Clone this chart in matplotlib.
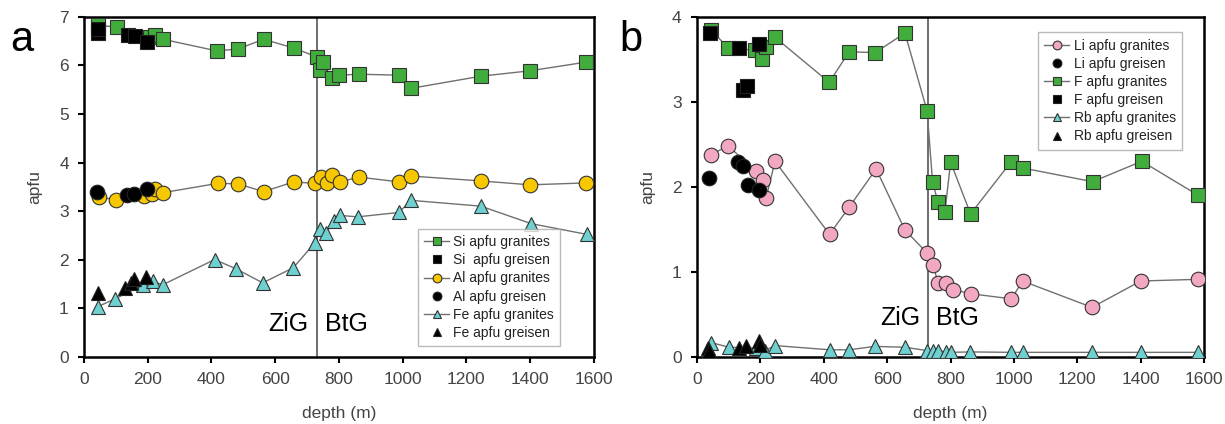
import numpy as np
import matplotlib
matplotlib.use("Agg")
import matplotlib.pyplot as plt

plt.rcParams['font.family'] = ['Liberation Sans', 'DejaVu Sans']

# panel a: Si, Al, Fe apfu
si_gr_d = [44, 103, 207, 222, 248, 417, 483, 564, 658, 730, 740, 750, 777, 802, 862, 990, 1028, 1247, 1400, 1577]
si_gr = [6.83, 6.79, 6.59, 6.62, 6.54, 6.30, 6.34, 6.54, 6.36, 6.18, 5.90, 6.07, 5.74, 5.80, 5.82, 5.80, 5.53, 5.78, 5.89, 6.07]
si_gs_d = [44, 44, 138, 160, 197]
si_gs = [6.67, 6.75, 6.63, 6.60, 6.48]

al_gr_d = [47, 101, 188, 214, 222, 249, 420, 483, 564, 658, 725, 745, 762, 780, 805, 862, 990, 1028, 1247, 1400, 1577]
al_gr = [3.29, 3.23, 3.30, 3.36, 3.45, 3.38, 3.57, 3.56, 3.40, 3.60, 3.57, 3.70, 3.58, 3.74, 3.60, 3.70, 3.60, 3.72, 3.62, 3.54, 3.58]
al_gs_d = [42, 136, 157, 198]
al_gs = [3.40, 3.34, 3.36, 3.45]

fe_gr_d = [43, 98, 185, 216, 247, 410, 477, 561, 657, 724, 741, 761, 784, 803, 859, 988, 1027, 1246, 1404, 1578]
fe_gr = [1.03, 1.19, 1.48, 1.55, 1.48, 2.00, 1.81, 1.52, 1.83, 2.34, 2.63, 2.55, 2.79, 2.91, 2.88, 2.97, 3.22, 3.10, 2.74, 2.52]
fe_gs_d = [43, 129, 146, 157, 196]
fe_gs = [1.31, 1.41, 1.52, 1.59, 1.64]

# panel b: Li, F, Rb apfu
li_gr_d = [43, 99, 186, 207, 218, 246, 418, 480, 565, 656, 726, 746, 759, 784, 806, 864, 992, 1027, 1246, 1400, 1581]
li_gr = [2.38, 2.48, 2.18, 2.08, 1.87, 2.30, 1.44, 1.76, 2.21, 1.49, 1.22, 1.08, 0.87, 0.87, 0.79, 0.74, 0.68, 0.89, 0.58, 0.89, 0.91]
li_gs_d = [38, 129, 145, 160, 195]
li_gs = [2.10, 2.29, 2.25, 2.02, 1.96]

f_gr_d = [44, 99, 183, 204, 218, 246, 417, 480, 562, 656, 726, 743, 760, 782, 800, 863, 990, 1029, 1248, 1403, 1581]
f_gr = [3.85, 3.63, 3.61, 3.50, 3.65, 3.76, 3.23, 3.59, 3.58, 3.81, 2.89, 2.06, 1.82, 1.70, 2.29, 1.68, 2.29, 2.22, 2.06, 2.30, 1.90]
f_gs_d = [41, 132, 146, 157, 196]
f_gs = [3.81, 3.64, 3.14, 3.19, 3.68]

rb_gr_d = [44, 101, 186, 215, 245, 418, 480, 560, 656, 726, 744, 759, 784, 800, 861, 992, 1027, 1246, 1400, 1581]
rb_gr = [0.165, 0.11, 0.10, 0.07, 0.13, 0.08, 0.08, 0.12, 0.11, 0.07, 0.07, 0.07, 0.055, 0.05, 0.055, 0.05, 0.05, 0.05, 0.05, 0.05]
rb_gs_d = [35, 38, 133, 155, 197, 200]
rb_gs = [0.10, 0.06, 0.10, 0.12, 0.18, 0.14]

boundary = 730

green = '#41ad3c'
yellow = '#f7c800'
cyan = '#6fd0d0'
pink = '#f2a7c3'
edge = '#333333'
linec = '#707070'
tickc = '#444444'

fig = plt.figure(figsize=(12.25, 4.24), dpi=100)
ax1 = fig.add_axes([0.0686, 0.159, 0.416, 0.801])
ax2 = fig.add_axes([0.569, 0.159, 0.414, 0.801])


def granite(ax, d, v, marker, color, label, ms=10):
    ax.plot(d, v, '-', color=linec, lw=1.0, marker=marker, ms=ms,
            mfc=color, mec=edge, mew=0.8, label=label, zorder=3)


def greisen(ax, d, v, marker, label, ms=10):
    ax.plot(d, v, ls='none', marker=marker, ms=ms, mfc='black',
            mec='#222222', mew=0.8, label=label, zorder=4)


granite(ax1, si_gr_d, si_gr, 's', green, 'Si apfu granites')
greisen(ax1, si_gs_d, si_gs, 's', 'Si  apfu greisen')
granite(ax1, al_gr_d, al_gr, 'o', yellow, 'Al apfu granites', 10.5)
greisen(ax1, al_gs_d, al_gs, 'o', 'Al apfu greisen', 10.5)
granite(ax1, fe_gr_d, fe_gr, '^', cyan, 'Fe apfu granites', 9.5)
greisen(ax1, fe_gs_d, fe_gs, '^', 'Fe apfu greisen', 9.5)

granite(ax2, li_gr_d, li_gr, 'o', pink, 'Li apfu granites', 10.5)
greisen(ax2, li_gs_d, li_gs, 'o', 'Li apfu greisen', 10.5)
granite(ax2, f_gr_d, f_gr, 's', green, 'F apfu granites')
greisen(ax2, f_gs_d, f_gs, 's', 'F apfu greisen')
granite(ax2, rb_gr_d, rb_gr, '^', cyan, 'Rb apfu granites', 9.5)
greisen(ax2, rb_gs_d, rb_gs, '^', 'Rb apfu greisen', 9.5)

for ax, ymax in ((ax1, 7), (ax2, 4)):
    ax.axvline(boundary, color='#555555', lw=1.2, zorder=2)
    ax.set_xlim(0, 1600)
    ax.set_ylim(0, ymax)
    ax.set_xticks(np.arange(0, 1601, 200))
    ax.set_yticks(np.arange(0, ymax + 1, 1))
    ax.tick_params(direction='out', length=4, width=1.5, labelsize=12.5,
                   labelcolor=tickc, color='black', pad=7)
    for s in ax.spines.values():
        s.set_linewidth(1.8)
    ax.set_xlabel('depth (m)', fontsize=12.5, color=tickc, labelpad=14)
    ax.set_ylabel('apfu', fontsize=12.5, color=tickc, labelpad=12)

ax1.text(705, 0.68, 'ZiG', fontsize=18, ha='right', va='center')
ax1.text(755, 0.68, 'BtG', fontsize=18, ha='left', va='center')
ax2.text(705, 0.45, 'ZiG', fontsize=18, ha='right', va='center')
ax2.text(755, 0.45, 'BtG', fontsize=18, ha='left', va='center')

leg_kw = dict(fontsize=10, frameon=True, fancybox=False, edgecolor='#aaaaaa',
              handlelength=1.8, handletextpad=0.3, labelspacing=0.3,
              borderpad=0.45, markerscale=0.6)
l1 = ax1.legend(loc='lower right', bbox_to_anchor=(0.948, 0.01), **leg_kw)
l2 = ax2.legend(loc='upper right', bbox_to_anchor=(0.97, 0.975), **leg_kw)
for l in (l1, l2):
    l.get_frame().set_linewidth(1.0)
    for t in l.get_texts():
        t.set_color('#222222')

fig.text(0.018, 0.905, 'a', fontsize=30, ha='center', va='center')
fig.text(0.515, 0.905, 'b', fontsize=30, ha='center', va='center')

fig.savefig('out.png', dpi=100)
